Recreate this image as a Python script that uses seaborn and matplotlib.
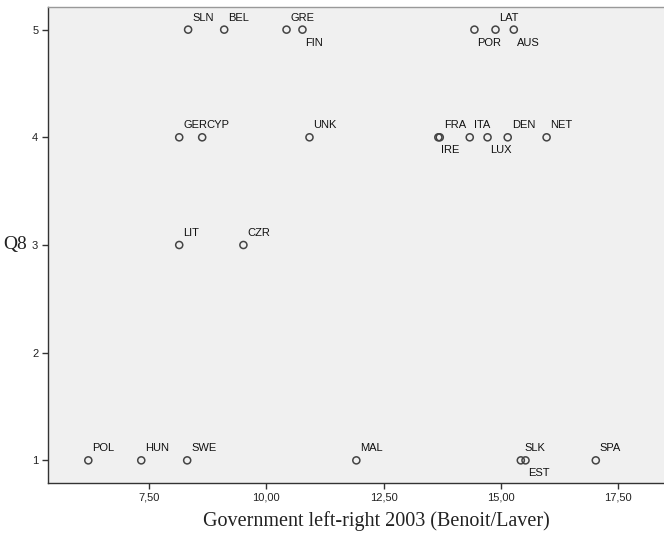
import numpy as np
import pandas as pd
import matplotlib
matplotlib.use("Agg")
import matplotlib.pyplot as plt
import seaborn as sns

# data
countries = ["SLN", "BEL", "GRE", "FIN", "POR", "LAT", "AUS",
             "GER", "CYP", "UNK", "FRA", "IRE", "ITA", "LUX", "DEN", "NET",
             "LIT", "CZR",
             "POL", "HUN", "SWE", "MAL", "SLK", "EST", "SPA"]
gov_lr = [8.33, 9.10, 10.43, 10.77, 14.44, 14.89, 15.28,
          8.14, 8.63, 10.92, 13.70, 13.67, 14.34, 14.72, 15.15, 15.98,
          8.14, 9.51,
          6.20, 7.33, 8.31, 11.92, 15.43, 15.53, 17.03]
q8 = [5, 5, 5, 5, 5, 5, 5,
      4, 4, 4, 4, 4, 4, 4, 4, 4,
      3, 3,
      1, 1, 1, 1, 1, 1, 1]
below = ["FIN", "POR", "AUS", "IRE", "LUX", "EST"]

df = pd.DataFrame({"country": countries, "x": gov_lr, "y": q8})

sns.set_style("white")
plt.rcParams['font.family'] = ['Liberation Sans', 'DejaVu Sans']

fig = plt.figure(figsize=(6.64, 5.4), dpi=100)
# the chart is cropped on the right: axes run a bit past the figure edge
ax = fig.add_axes([0.0723, 0.1056, 0.988, 0.8814])
ax.set_facecolor("#f0f0f0")

sns.scatterplot(data=df, x="x", y="y", ax=ax, marker="o", s=26,
                facecolors="none", edgecolors="#444444", linewidth=1.1)

for c, x, y in zip(countries, gov_lr, q8):
    if c in below:
        off = (3, -13)
    else:
        off = (4, 12)
    ax.annotate(c, (x, y), xytext=off, textcoords="offset pixels",
                ha="left", va="center", fontsize=8, color="#111111")

ax.set_xlim(5.34, 19.34)
ax.set_ylim(0.79, 5.21)
ax.set_xticks([7.5, 10, 12.5, 15, 17.5])
ax.set_xticklabels(["7,50", "10,00", "12,50", "15,00", "17,50"])
ax.set_yticks([1, 2, 3, 4, 5])
ax.tick_params(axis="both", direction="out", length=4, width=1,
               color="#333333", labelsize=8, labelcolor="#222222", pad=3)
ax.tick_params(left=True, bottom=True)

for s in ["left", "bottom"]:
    ax.spines[s].set_color("#333333")
    ax.spines[s].set_linewidth(1)
ax.spines["top"].set_color("#999999")
ax.spines["top"].set_linewidth(1)
ax.spines["right"].set_visible(False)

ax.set_xlabel("Government left-right 2003 (Benoit/Laver)",
              family="Liberation Serif", fontsize=14.5, color="#222222", labelpad=6)
ax.set_ylabel("Q8", family="Liberation Serif", fontsize=14, color="#222222",
              rotation=0, labelpad=12, va="center")

fig.savefig("out.png", dpi=100)
